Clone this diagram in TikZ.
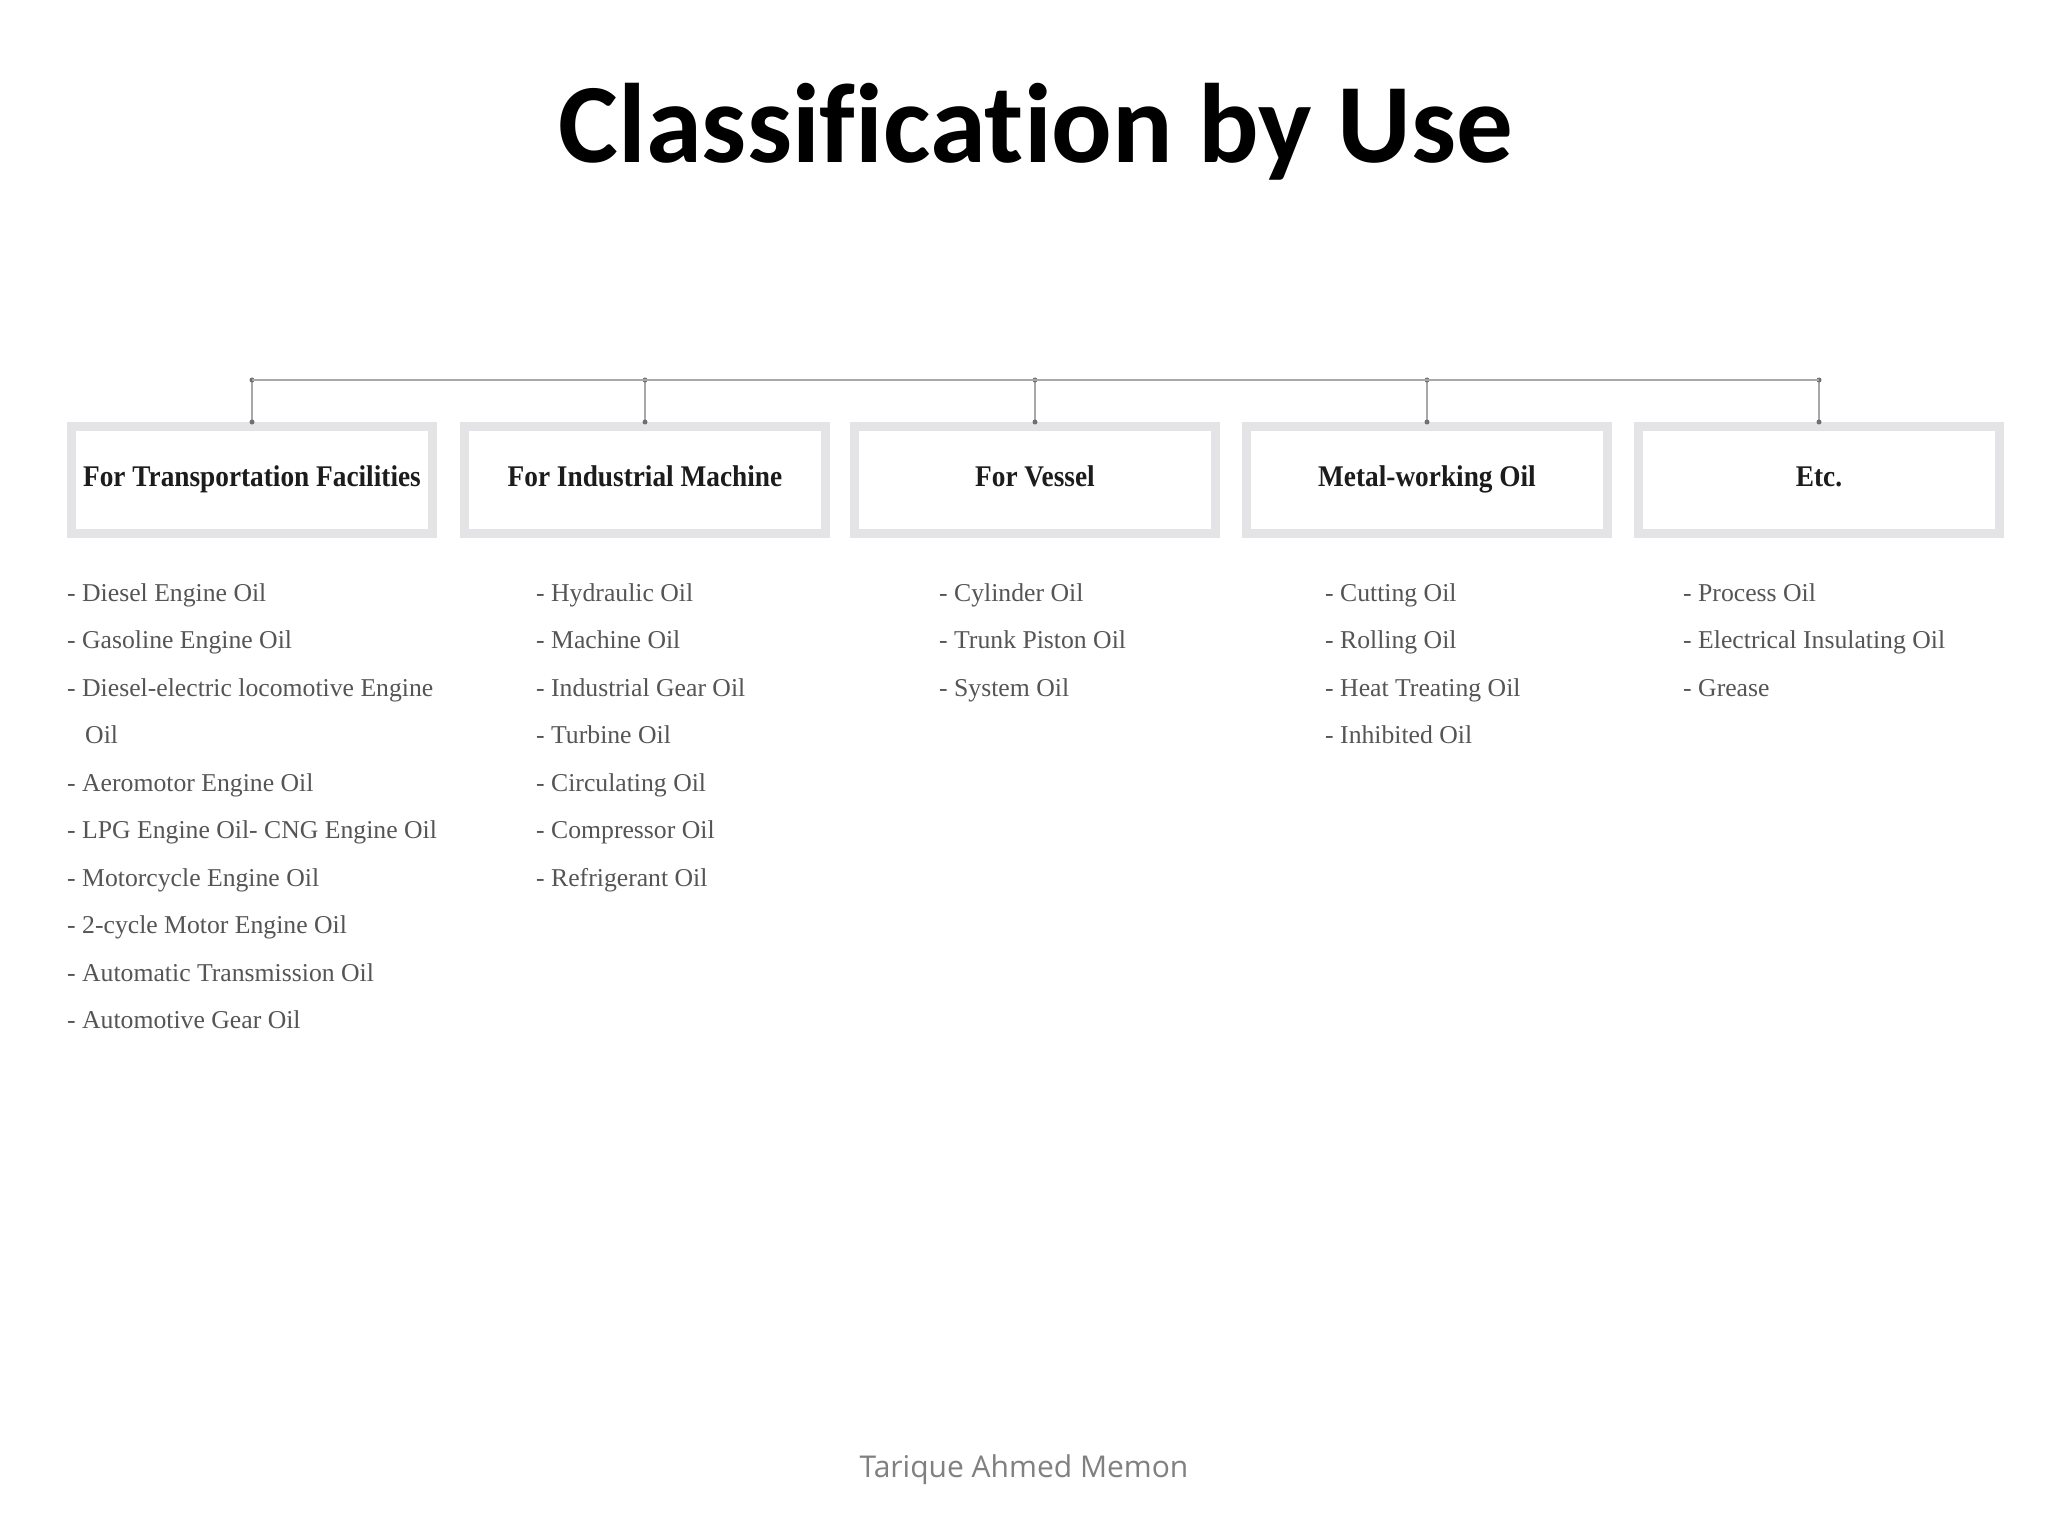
\documentclass[tikz,border=0pt]{standalone}
\usepackage{fontspec}
\setmainfont{Liberation Serif}
\newfontfamily\titlefont[Ligatures=NoCommon]{Carlito}
\newfontfamily\footfont{Open Sans}
\newfontfamily\headfont[FakeStretch=0.91]{Liberation Serif}
\usetikzlibrary{positioning}
\definecolor{framegray}{HTML}{E4E4E6}
\definecolor{headink}{HTML}{1C1C1C}
\definecolor{itemgray}{HTML}{555555}
\definecolor{linkgray}{HTML}{A8A8A8}
\definecolor{dotgray}{HTML}{707070}
\definecolor{footgray}{HTML}{808080}

\begin{document}
\begin{tikzpicture}[x=1pt,y=-1pt,
  catbox/.style={draw=framegray,line width=9pt,fill=white,minimum width=361pt,minimum height=107pt,inner sep=0pt,
    font=\headfont\bfseries\fontsize{30}{30}\selectfont,text=headink,text height=20pt,text depth=8pt},
  item/.style={anchor=base west,inner sep=0pt,font=\fontsize{25.7}{25.7}\selectfont,text=itemgray},
  joint/.style={circle,fill=dotgray,inner sep=0pt,minimum size=5pt},
  link/.style={draw=linkgray,line width=1.5pt}]
  \fill[white] (0,0) rectangle (2048,1536);
  \useasboundingbox (0,0) rectangle (2048,1536);

  % title and footer
  \node[anchor=base,inner sep=0pt,font=\titlefont\bfseries\fontsize{113}{113}\selectfont] (title) at (1036,162) {Classification by Use};
  \node[anchor=base,inner sep=0pt,font=\footfont\fontsize{30}{30}\selectfont,text=footgray] (footer) at (1024,1477) {Tarique Ahmed Memon};

  % category boxes
  \node[catbox] (trans) at (252,480) {For Transportation Facilities};
  \node[catbox] (indus) at (645,480) {For Industrial Machine};
  \node[catbox] (vessel) at (1035,480) {For Vessel};
  \node[catbox] (metal) at (1427,480) {Metal-working Oil};
  \node[catbox] (etc) at (1819,480) {Etc.};

  % connectors
  \foreach \b in {trans,indus,vessel,metal,etc}{
    \coordinate (\b-top) at (\b.center |- 0,380);
    \draw[link] (\b-top) -- (\b.north);
    \node[joint] (\b-dot) at (\b-top) {};
    \node[joint] (\b-pin) at (\b.north) {};
  }
  \draw[link] (trans-top) -- (etc-top);

  % lists
  \foreach \txt [count=\k from 0] in {- Diesel Engine Oil,- Gasoline Engine Oil,- Diesel-electric locomotive Engine}
    \node[item] (trans-\k) at (67,601+47.5*\k) {\txt};
  \node[item] (trans-3) at (85,601+47.5*3) {Oil};
  \foreach \txt [count=\k from 4] in {- Aeromotor Engine Oil,- LPG Engine Oil- CNG Engine Oil,- Motorcycle Engine Oil,- 2-cycle Motor Engine Oil,- Automatic Transmission Oil,- Automotive Gear Oil}
    \node[item] (trans-\k) at (67,601+47.5*\k) {\txt};
  \foreach \txt [count=\k from 0] in {- Hydraulic Oil,- Machine Oil,- Industrial Gear Oil,- Turbine Oil,- Circulating Oil,- Compressor Oil,- Refrigerant Oil}
    \node[item] (indus-\k) at (536,601+47.5*\k) {\txt};
  \foreach \txt [count=\k from 0] in {- Cylinder Oil,- Trunk Piston Oil,- System Oil}
    \node[item] (vessel-\k) at (939,601+47.5*\k) {\txt};
  \foreach \txt [count=\k from 0] in {- Cutting Oil,- Rolling Oil,- Heat Treating Oil,- Inhibited Oil}
    \node[item] (metal-\k) at (1325,601+47.5*\k) {\txt};
  \foreach \txt [count=\k from 0] in {- Process Oil,- Electrical Insulating Oil,- Grease}
    \node[item] (etc-\k) at (1683,601+47.5*\k) {\txt};
\end{tikzpicture}
\end{document}
